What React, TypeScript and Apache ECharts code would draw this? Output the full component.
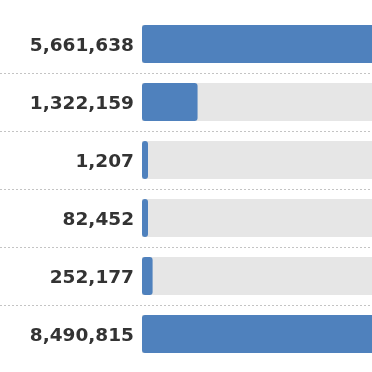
import React, { useEffect, useRef } from "react";
import * as echarts from "echarts";

const values = [5661638, 1322159, 1207, 82452, 252177, 8490815];
const categoryLabels = ["5,661,638", "1,322,159", "1,207", "82,452", "252,177", "8,490,815"];
const xMax = 10900000;

export default function App() {
  const ref = useRef<HTMLDivElement>(null);
  useEffect(() => {
    if (!ref.current) return;
    const chart = echarts.init(ref.current, undefined, { renderer: "svg" });
    chart.setOption({
      animation: false,
      grid: [
        { left: 142, right: 0, top: 15, height: 348, containLabel: false },
        { left: 0, right: 0, top: 15, height: 348, containLabel: false },
      ],
      xAxis: [
        { type: "value", gridIndex: 0, min: 0, max: xMax, show: false, splitLine: { show: false } },
        { type: "value", gridIndex: 1, min: 0, max: 1, show: false, splitLine: { show: false } },
      ],
      yAxis: [
        {
          type: "category",
          gridIndex: 0,
          inverse: true,
          data: categoryLabels,
          axisLine: { show: false },
          axisTick: { show: false },
          splitLine: { show: false },
          axisLabel: {
            margin: 8,
            color: "#333333",
            fontFamily: "DejaVu Sans",
            fontWeight: "bold",
            fontSize: 18.5,
          },
        },
        {
          type: "category",
          gridIndex: 1,
          inverse: true,
          data: categoryLabels,
          axisLine: { show: false },
          axisTick: { show: false },
          axisLabel: { show: false },
          splitLine: {
            show: true,
            showMinLine: false,
            showMaxLine: false,
            lineStyle: { color: "#c4c4c4", type: [2, 2], width: 1 },
          },
        },
      ],
      series: [
        {
          type: "bar",
          xAxisIndex: 0,
          yAxisIndex: 0,
          data: values,
          barWidth: 38,
          barMinHeight: 6,
          showBackground: true,
          backgroundStyle: { color: "#e6e6e6" },
          itemStyle: { color: "#4f81bd", borderRadius: 3 },
        },
      ],
    });
    return () => chart.dispose();
  }, []);
  return (
    <div style={{ position: "fixed", left: 0, top: 0, width: 372, height: 372, overflow: "hidden" }}>
      <div ref={ref} style={{ width: 600, height: 372 }} />
    </div>
  );
}
